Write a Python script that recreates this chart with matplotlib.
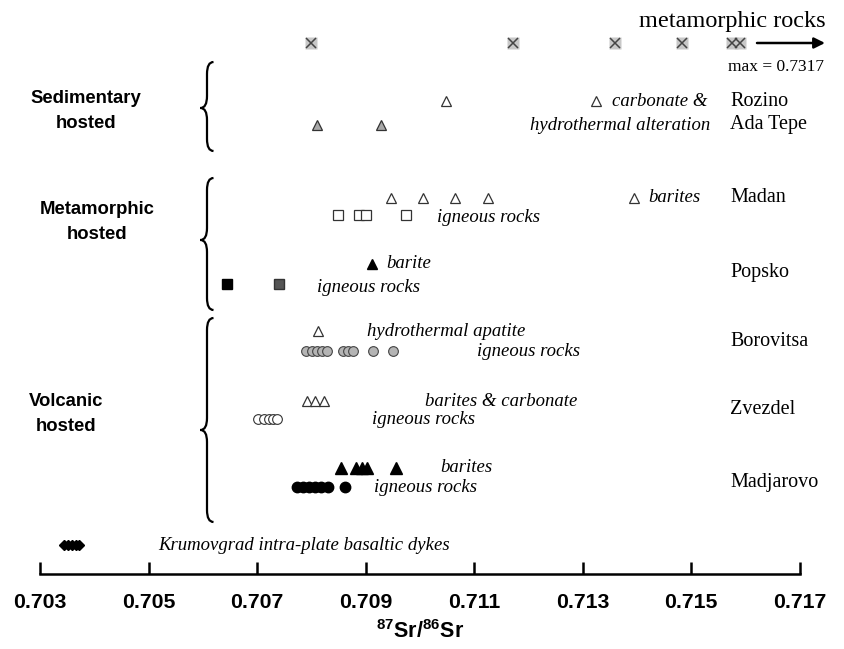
import matplotlib
matplotlib.use("Agg")
import matplotlib.pyplot as plt
from matplotlib.path import Path
from matplotlib.patches import PathPatch

plt.rcParams['mathtext.fontset'] = 'custom'
plt.rcParams['mathtext.rm'] = 'Liberation Sans:bold'
plt.rcParams['mathtext.it'] = 'Liberation Sans:bold'
plt.rcParams['mathtext.bf'] = 'Liberation Sans:bold'

SANS = 'Liberation Sans'
SERIF = 'Liberation Serif'

# 87Sr/86Sr values
meta_rocks = [0.70800, 0.71172, 0.71360, 0.71483, 0.71576, 0.71590]
rozino = [0.71048, 0.71325]
ada_tepe = [0.70811, 0.70929]
madan_barites = [0.70947, 0.71006, 0.71065, 0.71126, 0.71395]
madan_igneous = [0.70849, 0.70888, 0.70901, 0.70975]
popsko_barite = [0.70912]
popsko_igneous_a = [0.70645]
popsko_igneous_b = [0.70741]
borovitsa_apatite = [0.70812]
borovitsa_igneous = [0.70790, 0.70801, 0.70811, 0.70820, 0.70829,
                     0.70859, 0.70868, 0.70877, 0.70914, 0.70951]
zvezdel_barites = [0.70792, 0.70807, 0.70823]
zvezdel_igneous = [0.70702, 0.70713, 0.70722, 0.70730, 0.70737]
madjarovo_barites = [0.70855, 0.70882, 0.70894, 0.70903, 0.70956]
madjarovo_igneous = [0.70774, 0.70785, 0.70796, 0.70807, 0.70818, 0.70831, 0.70862]
krumovgrad = [0.70344, 0.70352, 0.70359, 0.70366, 0.70372]

xticks = [0.703, 0.705, 0.707, 0.709, 0.711, 0.713, 0.715, 0.717]

W, H = 845, 649
fig = plt.figure(figsize=(W / 100, H / 100), dpi=100)
ax = fig.add_axes([40 / W, (H - 574) / H, 759.5 / W, 574 / H])
ax.set_xlim(0.703, 0.717)
ax.set_ylim(574, 0)

# row levels (vertical placement of each group of points)
def pts(vals, y, **kw):
    ax.plot(vals, [y] * len(vals), linestyle='none', clip_on=False, **kw)

pts(meta_rocks, 43, marker='s', ms=8, mfc='#c8c8c8', mec='none')
pts(meta_rocks, 43, marker='x', ms=7, mew=1.1, color='#444444')
pts(rozino, 101, marker='^', ms=7, mfc='white', mec='#333333', mew=0.9)
pts(ada_tepe, 125, marker='^', ms=7, mfc='#a8a8a8', mec='#333333', mew=0.9)
pts(madan_barites, 198, marker='^', ms=7, mfc='white', mec='#333333', mew=0.9)
pts(madan_igneous, 215, marker='s', ms=6.5, mfc='white', mec='#333333', mew=0.9)
pts(popsko_barite, 264, marker='^', ms=7.5, color='black')
pts(popsko_igneous_a, 284, marker='s', ms=6.5, color='black')
pts(popsko_igneous_b, 284, marker='s', ms=6.5, mfc='#555555', mec='#333333')
pts(borovitsa_apatite, 331, marker='^', ms=7, mfc='white', mec='#333333', mew=0.9)
pts(borovitsa_igneous, 351, marker='o', ms=7, mfc='#b4b4b4', mec='#444444', mew=0.8)
pts(zvezdel_barites, 401, marker='^', ms=7, mfc='white', mec='#333333', mew=0.9)
pts(zvezdel_igneous, 419, marker='o', ms=7, mfc='white', mec='#333333', mew=0.8)
pts(madjarovo_barites, 468, marker='^', ms=8, color='black')
pts(madjarovo_igneous, 487, marker='o', ms=7.5, color='black')
pts(krumovgrad, 545, marker='D', ms=5, color='black')

for s in ['left', 'right', 'top']:
    ax.spines[s].set_visible(False)
ax.spines['bottom'].set_linewidth(1.8)
ax.set_yticks([])
ax.set_xticks(xticks)
ax.set_xticklabels([f'{t:.3f}' for t in xticks], fontfamily=SANS,
                   fontweight='bold', fontsize=15.3)
ax.tick_params(axis='x', direction='in', length=9, width=1.8, pad=14)
ax.patch.set_alpha(0)

# overlay in pixel coordinates for the annotations
ov = fig.add_axes([0, 0, 1, 1])
ov.set_xlim(0, W)
ov.set_ylim(H, 0)
ov.axis('off')
ov.patch.set_alpha(0)

ov.text(420, 632, r'$^{87}$Sr/$^{86}$Sr', ha='center', va='center',
        fontfamily=SANS, fontweight='bold', fontsize=15.5)

for txt, x, y in [('Sedimentary\nhosted', 86, 111),
                  ('Metamorphic\nhosted', 97, 222),
                  ('Volcanic\nhosted', 66, 414)]:
    ov.text(x, y, txt, ha='center', va='center', fontfamily=SANS,
            fontweight='bold', fontsize=13.3, linespacing=1.55)

def brace(x0, y0, y1, ym, w=6.5, r=12):
    verts = [(x0 + w, y0), (x0, y0), (x0, y0 + r),
             (x0, ym - r), (x0, ym), (x0 - w, ym),
             (x0, ym), (x0, ym + r),
             (x0, y1 - r), (x0, y1), (x0 + w, y1)]
    codes = [Path.MOVETO, Path.CURVE3, Path.CURVE3,
             Path.LINETO, Path.CURVE3, Path.CURVE3,
             Path.CURVE3, Path.CURVE3,
             Path.LINETO, Path.CURVE3, Path.CURVE3]
    ov.add_patch(PathPatch(Path(verts, codes), fill=False, lw=1.6, color='black'))

brace(207, 62, 151, 108)
brace(207, 178, 310, 240)
brace(207, 318, 522, 430)

for txt, y in [('Rozino', 101), ('Ada Tepe', 125), ('Madan', 198),
               ('Popsko', 272), ('Borovitsa', 342), ('Zvezdel', 410),
               ('Madjarovo', 483)]:
    ov.text(730, y, txt, ha='left', va='center', fontfamily=SERIF, fontsize=14.5)

notes = [('carbonate &', 612, 101, 'left'),
         ('hydrothermal alteration', 710, 125, 'right'),
         ('barites', 648, 198, 'left'),
         ('igneous rocks', 437, 218, 'left'),
         ('barite', 386, 264, 'left'),
         ('igneous rocks', 317, 288, 'left'),
         ('hydrothermal apatite', 367, 331, 'left'),
         ('igneous rocks', 580, 352, 'right'),
         ('barites & carbonate', 577, 401, 'right'),
         ('igneous rocks', 372, 419, 'left'),
         ('barites', 440, 468, 'left'),
         ('igneous rocks', 374, 487, 'left'),
         ('Krumovgrad intra-plate basaltic dykes', 158, 545, 'left')]
for txt, x, y, ha in notes:
    ov.text(x, y, txt, ha=ha, va='center', fontfamily=SERIF, style='italic',
            fontsize=13.5)

ov.text(826, 22, 'metamorphic rocks', ha='right', va='center',
        fontfamily=SERIF, fontsize=17.5)
ov.text(824, 67, 'max = 0.7317', ha='right', va='center',
        fontfamily=SERIF, fontsize=12.5)
ov.annotate('', xy=(825, 43), xytext=(757, 43),
            arrowprops=dict(arrowstyle='-|>', color='black', lw=1.8,
                            mutation_scale=16, shrinkA=0, shrinkB=0))

fig.savefig('out.png', dpi=100)
